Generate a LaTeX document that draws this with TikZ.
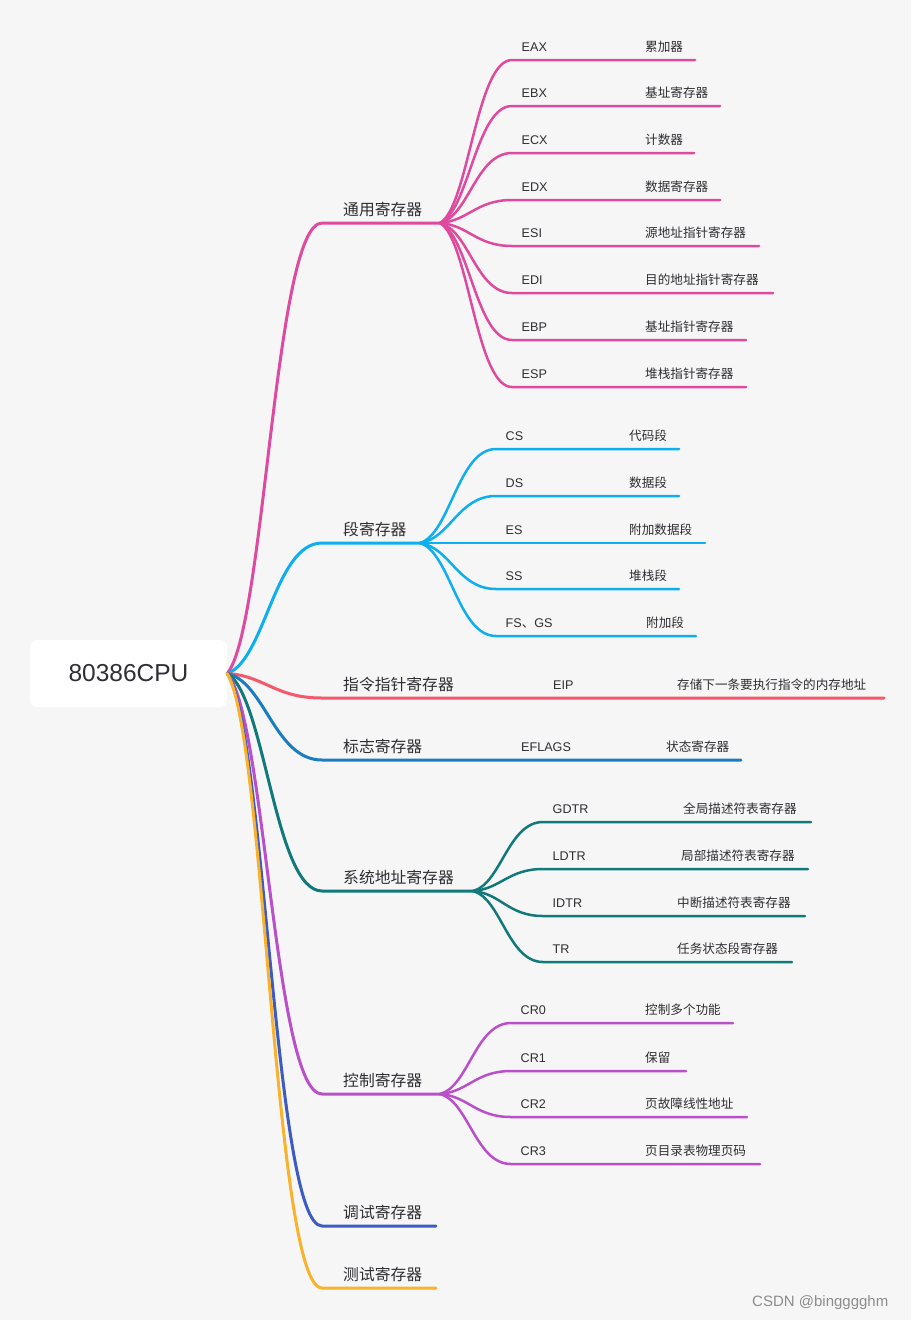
\documentclass[tikz,border=0pt]{standalone}
\usepackage{fontspec}
\setmainfont{Liberation Sans}
\newfontfamily\cjk{Noto Sans CJK SC}
\usetikzlibrary{calc}
\definecolor{bg}{HTML}{F6F6F6}
\definecolor{txt}{HTML}{2E2E33}
\definecolor{cpink}{HTML}{DE4A9E}
\definecolor{ccyan}{HTML}{0FAEEE}
\definecolor{cred}{HTML}{F5576B}
\definecolor{cblue}{HTML}{1B7DC1}
\definecolor{cteal}{HTML}{12797B}
\definecolor{cpurp}{HTML}{BA4FCA}
\definecolor{cindi}{HTML}{3D5BC3}
\definecolor{corng}{HTML}{F8B22B}
\tikzset{
  l1/.style={anchor=base west, inner sep=0pt, text=txt, font=\cjk\fontsize{15.8}{18}\selectfont},
  l2/.style={anchor=base west, inner sep=0pt, text=txt, font=\fontsize{12.6}{15}\selectfont},
  br/.style={draw=#1, line width=3pt, line cap=round},
  tw/.style={draw=#1, line width=2.5pt, line cap=round},
  rootbox/.style={fill=white, rounded corners=7pt, minimum width=197pt, minimum height=67pt, inner sep=0pt, text=txt, font=\fontsize{24.5}{28}\selectfont},
}
% main branch: name, colour, y, end x, text
\newcommand\mainbr[5]{%
  \coordinate (#1a) at (322,#3);
  \coordinate (#1b) at (#4,#3);
  \node[l1] (#1) at (343,#3-7.5) {#5};
  \draw[br=#2] let \p1=(root.east), \p2=(#1a) in (\p1) .. controls ({\x1+0.4*(\x2-\x1)},{\y1+0.1*(\y2-\y1)}) and ({\x1+0.5*(\x2-\x1)},{\y2}) .. (\p2) -- (#1b);
}
% child branch: name, colour, fan coordinate, start of horizontal, y, label, desc x, desc, end x
\newcommand\kid[9]{%
  \coordinate (#1s) at (#4,#5);
  \coordinate (#1e) at (#9,#5);
  \node[l2] (#1l) at (#4+9.5,#5-8.8) {#6};
  \node[l2] (#1d) at (#7,#5-8.8) {\cjk #8};
  \draw[tw=#2] let \p1=(#3), \p2=(#1s) in (\p1) .. controls ({\x1+0.4*(\x2-\x1)},{\y1+0.1*(\y2-\y1)}) and ({\x1+0.5*(\x2-\x1)},{\y2}) .. (\p2) -- (#1e);
}
\begin{document}
\begin{tikzpicture}[x=1pt,y=-1pt]
\fill[bg] (0,0) rectangle (911,1320);
\useasboundingbox (0,0) rectangle (911,1320);

\node[rootbox] (root) at (128.5,673.5) {80386CPU};

% level 1
\mainbr{gen}{cpink}{223}{440}{通用寄存器}
\mainbr{seg}{ccyan}{543}{420}{段寄存器}
\mainbr{ip}{cred}{698}{884}{指令指针寄存器}
\mainbr{fl}{cblue}{760}{741}{标志寄存器}
\mainbr{sys}{cteal}{891}{473}{系统地址寄存器}
\mainbr{ctl}{cpurp}{1094}{440}{控制寄存器}
\mainbr{dbg}{cindi}{1226}{436}{调试寄存器}
\mainbr{tst}{corng}{1288}{436}{测试寄存器}

% single-child lines
\node[l2] (eip) at (553,698-8.8) {EIP};
\node[l2] (eipd) at (677,698-8.8) {\cjk 存储下一条要执行指令的内存地址};
\node[l2] (efl) at (521,760-8.8) {EFLAGS};
\node[l2] (efld) at (666,760-8.8) {\cjk 状态寄存器};

% general registers
\kid{g1}{cpink}{genb}{512}{60}{EAX}{645}{累加器}{695}
\kid{g2}{cpink}{genb}{512}{106}{EBX}{645}{基址寄存器}{720}
\kid{g3}{cpink}{genb}{512}{153}{ECX}{645}{计数器}{694}
\kid{g4}{cpink}{genb}{512}{200}{EDX}{645}{数据寄存器}{720}
\kid{g5}{cpink}{genb}{512}{246}{ESI}{645}{源地址指针寄存器}{759}
\kid{g6}{cpink}{genb}{512}{293}{EDI}{645}{目的地址指针寄存器}{773}
\kid{g7}{cpink}{genb}{512}{340}{EBP}{645}{基址指针寄存器}{746}
\kid{g8}{cpink}{genb}{512}{387}{ESP}{645}{堆栈指针寄存器}{746}

% segment registers
\kid{s1}{ccyan}{segb}{496}{449}{CS}{629}{代码段}{679}
\kid{s2}{ccyan}{segb}{496}{496}{DS}{629}{数据段}{679}
\kid{s3}{ccyan}{segb}{496}{543}{ES}{629}{附加数据段}{705}
\kid{s4}{ccyan}{segb}{496}{589}{SS}{629}{堆栈段}{679}
\kid{s5}{ccyan}{segb}{496}{636}{FS{\cjk 、}GS}{646}{附加段}{696}

% system address registers
\kid{y1}{cteal}{sysb}{543}{822}{GDTR}{683}{全局描述符表寄存器}{811}
\kid{y2}{cteal}{sysb}{543}{869}{LDTR}{681}{局部描述符表寄存器}{808}
\kid{y3}{cteal}{sysb}{543}{916}{IDTR}{677}{中断描述符表寄存器}{805}
\kid{y4}{cteal}{sysb}{543}{962}{TR}{677}{任务状态段寄存器}{792}

% control registers
\kid{c1}{cpurp}{ctlb}{511}{1023}{CR0}{645}{控制多个功能}{733}
\kid{c2}{cpurp}{ctlb}{511}{1071}{CR1}{645}{保留}{686}
\kid{c3}{cpurp}{ctlb}{511}{1117}{CR2}{645}{页故障线性地址}{747}
\kid{c4}{cpurp}{ctlb}{511}{1164}{CR3}{645}{页目录表物理页码}{760}

% watermark
\node[anchor=base west, inner sep=0pt, text=black!45, font=\fontsize{15}{17}\selectfont] (wm) at (752,1306) {CSDN @bingggghm};
\end{tikzpicture}
\end{document}
